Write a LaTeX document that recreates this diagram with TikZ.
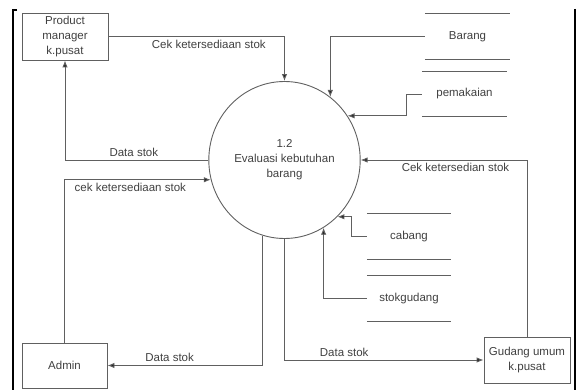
\documentclass[tikz,border=0pt]{standalone}
\usepackage{fontspec}
\setmainfont{Liberation Sans}
\usetikzlibrary{arrows.meta,shapes.geometric}
\definecolor{linegray}{HTML}{606060}
\definecolor{textgray}{HTML}{404040}
\tikzset{
  entity/.style={draw=linegray, line width=0.9pt, minimum width=85pt, minimum height=46pt,
    align=center, inner sep=1pt, text=textgray},
  store/.style={minimum width=85pt, minimum height=45pt, text=textgray},
  flow/.style={draw=linegray, line width=0.9pt, -{Latex[length=7pt,width=5.5pt,fill=black!85]}},
  lbl/.style={text=textgray, inner sep=3pt},
}
\begin{document}
\begin{tikzpicture}[x=1pt, y=-1pt, font=\fontsize{11.5}{15}\selectfont]
    \useasboundingbox (0,0) rectangle (577,390);
    % page frame
    \draw[line width=2pt] (17,10) -- (13,10) -- (13,390);
    \draw[line width=2pt] (575,9) -- (575,390);

    \node[ellipse, draw=linegray, line width=0.9pt, minimum width=147pt, minimum height=157pt,
      align=center, text=textgray] (proc) at (284.5,160) {1.2\\Evaluasi kebutuhan\\barang};

    \node[entity, minimum width=86pt, minimum height=47pt] (pm) at (65,36.5) {Product\\manager\\k.pusat};
    \node[entity, minimum height=45pt] (admin) at (64.5,365.5) {Admin};
    \node[entity, minimum width=86pt] (gudang) at (527,360) {Gudang umum\\k.pusat};

    \node[store] (barang) at (467.5,36.5) {Barang};
    \node[store] (pemakaian) at (464.5,94) {pemakaian};
    \node[store, minimum width=84pt] (cabang) at (409,236.5) {cabang};
    \node[store, minimum width=84pt] (stokgudang) at (409,298.5) {stokgudang};
    \foreach \s in {barang,pemakaian,cabang,stokgudang}
      \draw[linegray, line width=0.9pt] (\s.north west) -- (\s.north east)
        (\s.south west) -- (\s.south east);

    % flows between entities and process
    \draw[flow] (pm.east) -| node[lbl, below, pos=0.285] {Cek ketersediaan stok} (proc.north);
    \draw[flow] (proc.west) -| node[lbl, above, pos=0.26] {Data stok} (pm.south);
    \draw[flow] (admin.north) |- node[lbl, below, pos=0.725] {cek ketersediaan stok} (proc.195);
    \draw[flow] (proc.254) |- node[lbl, above, pos=0.8] {Data stok} (admin.east);
    \draw[flow] (proc.south) |- node[lbl, above, pos=0.65] {Data stok} (gudang.west);
    \draw[flow] (gudang.north) |- node[lbl, below, pos=0.715] {Cek ketersedian stok} (proc.east);

    % flows from data stores
    \draw[flow] (barang.west) -| (proc.54.5);
    \draw[flow] (pemakaian.west) -- (406,94) |- (proc.35.4);
    \draw[flow] (cabang.west) -- (351,236.5) |- (proc.-47);
    \draw[flow] (stokgudang.west) -| (proc.-60);
\end{tikzpicture}
\end{document}
